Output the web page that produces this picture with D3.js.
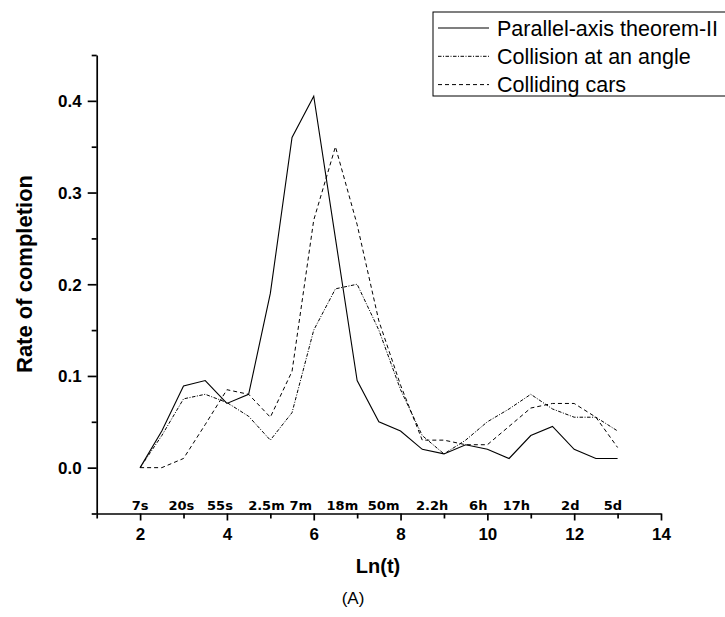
<!DOCTYPE html>
<html>
<head>
<meta charset="utf-8">
<script src="https://cdn.jsdelivr.net/npm/d3@7/dist/d3.min.js"></script>
<style>
  html, body { margin: 0; padding: 0; background: #fff; }
  svg { display: block; font-family: "Liberation Sans", Arial, sans-serif; }
</style>
</head>
<body>
<svg id="chart" width="725" height="617"></svg>
<script>
// Ln(t) sample positions
const lnT = [2, 2.5, 3, 3.5, 4, 4.5, 5, 5.5, 6, 6.5, 7, 7.5, 8, 8.5, 9, 9.5, 10, 10.5, 11, 11.5, 12, 12.5, 13];

// Rate of completion for each task
const parallelAxis = [0, 0.04, 0.089, 0.095, 0.07, 0.08, 0.19, 0.36, 0.405, 0.25, 0.095, 0.05, 0.04, 0.02, 0.015, 0.025, 0.02, 0.01, 0.035, 0.045, 0.02, 0.01, 0.01];
const collisionAngle = [0, 0.035, 0.075, 0.08, 0.071, 0.056, 0.03, 0.06, 0.15, 0.195, 0.2, 0.15, 0.085, 0.035, 0.015, 0.03, 0.05, 0.064, 0.08, 0.064, 0.055, 0.055, 0.04];
const collidingCars = [0, 0, 0.01, 0.047, 0.085, 0.08, 0.055, 0.105, 0.27, 0.35, 0.265, 0.16, 0.09, 0.03, 0.03, 0.025, 0.025, 0.045, 0.065, 0.07, 0.07, 0.055, 0.022];

const seriesNames = ["Parallel-axis theorem-II", "Collision at an angle", "Colliding cars"];

// Elapsed-time labels placed along the Ln(t) axis
const timeLabels = ["7s", "20s", "55s", "2.5m", "7m", "18m", "50m", "2.2h", "6h", "17h", "2d", "5d"];
const timeLabelPos = [2.0, 2.95, 3.84, 4.91, 5.7, 6.66, 7.61, 8.73, 9.79, 10.67, 11.91, 12.89];

const xMajorTicks = [2, 4, 6, 8, 10, 12, 14];
const xMinorTicks = [1, 3, 5, 7, 9, 11, 13];
const yMajorTicks = [0.0, 0.1, 0.2, 0.3, 0.4];
const yMinorTicks = [-0.05, 0.05, 0.15, 0.25, 0.35, 0.45];

const svg = d3.select("#chart");

const x = d3.scaleLinear().domain([1, 14]).range([96.7, 661]);
const y = d3.scaleLinear().domain([-0.05, 0.45]).range([513.5, 55]);

const styles = [
  { dash: null, width: 1.1 },
  { dash: "3.5,1.5,1,1.5", width: 1 },
  { dash: "4,3", width: 1 }
];
const axisWidth = 1.7;

// X axis: major ticks with numbers, minor ticks without
const xAxisG = svg.append("g").attr("transform", `translate(0,${y(-0.05)})`);
xAxisG.call(d3.axisBottom(x).tickValues(xMajorTicks).tickSize(7).tickSizeOuter(0).tickFormat(d3.format("d")));
xAxisG.selectAll(".tick text")
  .attr("y", 14).attr("dy", "0.71em")
  .style("font-size", "17px").style("font-weight", "bold").attr("fill", "#000");
xAxisG.selectAll(".domain").attr("stroke-width", axisWidth);
xAxisG.selectAll(".tick line").attr("stroke-width", axisWidth);
const xMinorG = svg.append("g").attr("transform", `translate(0,${y(-0.05)})`);
xMinorG.call(d3.axisBottom(x).tickValues(xMinorTicks).tickSize(5).tickSizeOuter(0).tickFormat(""));
xMinorG.selectAll(".domain").remove();
xMinorG.selectAll(".tick line").attr("stroke-width", axisWidth);

// Y axis
const yAxisG = svg.append("g").attr("transform", `translate(${x(1)},0)`);
yAxisG.call(d3.axisLeft(y).tickValues(yMajorTicks).tickSize(9).tickSizeOuter(0).tickFormat(d3.format(".1f")));
yAxisG.selectAll(".tick text")
  .attr("x", -15).attr("dy", "0.34em")
  .style("font-size", "17px").style("font-weight", "bold").attr("fill", "#000");
yAxisG.selectAll(".domain").attr("stroke-width", axisWidth);
yAxisG.selectAll(".tick line").attr("stroke-width", axisWidth);
const yMinorG = svg.append("g").attr("transform", `translate(${x(1)},0)`);
yMinorG.call(d3.axisLeft(y).tickValues(yMinorTicks).tickSize(5).tickSizeOuter(0).tickFormat(""));
yMinorG.selectAll(".domain").remove();
yMinorG.selectAll(".tick line").attr("stroke-width", axisWidth);

// Time labels above the x axis
svg.append("g").selectAll("text")
  .data(timeLabels)
  .join("text")
  .attr("x", (d, i) => x(timeLabelPos[i]))
  .attr("y", 510)
  .attr("text-anchor", "middle")
  .style("font-family", "'DejaVu Sans', sans-serif")
  .style("font-size", "13px").style("font-weight", "bold")
  .text(d => d);

// Series lines
const allSeries = [parallelAxis, collisionAngle, collidingCars];
const line = d3.line().x((d, i) => x(lnT[i])).y(d => y(d));
svg.append("g").selectAll("path")
  .data(allSeries)
  .join("path")
  .attr("d", d => line(d))
  .attr("fill", "none")
  .attr("stroke", "#000")
  .attr("stroke-width", (d, i) => styles[i].width)
  .attr("stroke-dasharray", (d, i) => styles[i].dash);

// Axis titles
svg.append("text")
  .attr("x", 378).attr("y", 573)
  .attr("text-anchor", "middle")
  .style("font-size", "20px").style("font-weight", "bold")
  .text("Ln(t)");
svg.append("text")
  .attr("transform", "translate(32,274) rotate(-90)")
  .attr("text-anchor", "middle")
  .style("font-size", "22px").style("font-weight", "bold")
  .text("Rate of completion");
svg.append("text")
  .attr("x", 353).attr("y", 604)
  .attr("text-anchor", "middle")
  .style("font-size", "17px")
  .text("(A)");

// Legend
const legend = svg.append("g").attr("transform", "translate(433,12)");
legend.append("rect")
  .attr("x", 0).attr("y", 0).attr("width", 300).attr("height", 84)
  .attr("fill", "#fff").attr("stroke", "#000").attr("stroke-width", 1);
const rows = legend.selectAll("g.row")
  .data(seriesNames)
  .join("g")
  .attr("class", "row")
  .attr("transform", (d, i) => `translate(0,${16 + i * 28.3})`);
rows.append("line")
  .attr("x1", 5).attr("x2", 56).attr("y1", 0).attr("y2", 0)
  .attr("stroke", "#000")
  .attr("stroke-width", (d, i) => styles[i].width)
  .attr("stroke-dasharray", (d, i) => styles[i].dash);
rows.append("text")
  .attr("x", 64).attr("y", 0).attr("dy", "0.35em")
  .style("font-size", "21.5px")
  .text(d => d);
</script>
</body>
</html>
